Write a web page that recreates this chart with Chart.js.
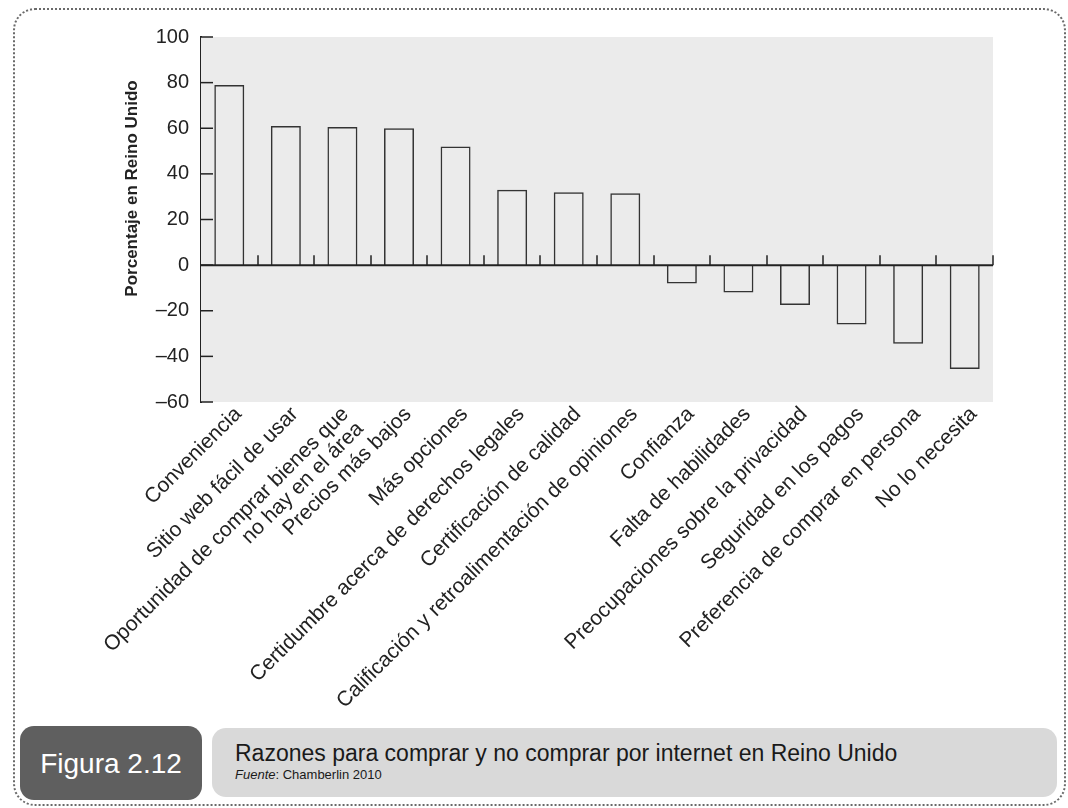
<!DOCTYPE html>
<html>
<head>
<meta charset="utf-8">
<script src="https://cdn.jsdelivr.net/npm/chart.js@4.4.1/dist/chart.umd.min.js"></script>
<style>
  html, body { margin:0; padding:0; background:#fff; }
  body { width:1068px; height:808px; position:relative; overflow:hidden; font-family:"Liberation Sans", Arial, sans-serif; }
  #frame { position:absolute; left:13px; top:8px; width:1049px; height:794px; border:2px dotted #6a6a6a; border-radius:22px; }
  #chart { position:absolute; left:0; top:0; }
  #figBox { position:absolute; left:20px; top:726px; width:182px; height:74px; background:#5f5f5f; border-radius:14px;
            color:#fff; font-size:28px; line-height:76px; text-align:center; }
  #capBox { position:absolute; left:212px; top:728px; width:845px; height:69px; background:#d9d9d9; border-radius:14px; }
  #capTitle { position:absolute; left:23px; top:12px; font-size:23px; color:#1a1a1a; white-space:nowrap; }
  #capSrc { position:absolute; left:23px; top:39px; font-size:13px; color:#1a1a1a; white-space:nowrap; }
</style>
</head>
<body>
<div id="frame"></div>
<canvas id="chart" width="1068" height="808"></canvas>
<div id="figBox">Figura 2.12</div>
<div id="capBox">
  <div id="capTitle">Razones para comprar y no comprar por internet en Reino Unido</div>
  <div id="capSrc"><i>Fuente</i>: Chamberlin 2010</div>
</div>
<script>
// categories and values
const categories = [
  'Conveniencia',
  'Sitio web fácil de usar',
  ['Oportunidad de comprar bienes que', 'no hay en el área'],
  'Precios más bajos',
  'Más opciones',
  'Certidumbre acerca de derechos legales',
  'Certificación de calidad',
  'Calificación y retroalimentación de opiniones',
  'Confianza',
  'Falta de habilidades',
  'Preocupaciones sobre la privacidad',
  'Seguridad en los pagos',
  'Preferencia de comprar en persona',
  'No lo necesita'
];
const percentages = [79, 61, 60.5, 60, 52, 33, 32, 31.5, -8, -12, -17.5, -26, -34.5, -45.5];
const yTitle = 'Porcentaje en Reino Unido';
const yMin = -60, yMax = 100, yStep = 20;

// one-line names go through the axis; the two-line one is centred on its bar
// like in the print, which the axis can't do per tick, so decor draws it
const axisLabels = categories.map(c => Array.isArray(c) ? '' : c);

const FONT = '"Liberation Sans", Arial, sans-serif';
const INK = '#222';
const LABEL_SIZE = 21;
const LABEL_OFFSET = 9;

// shaded plot area, zero line with category ticks, inward y ticks, axis title
const decor = {
  id: 'decor',
  beforeDatasetsDraw(chart) {
    const { ctx, chartArea: a } = chart;
    ctx.save();
    ctx.fillStyle = '#ebebeb';
    ctx.fillRect(a.left, a.top, a.right - a.left, a.bottom - a.top);
    ctx.restore();
  },
  afterDatasetsDraw(chart) {
    const { ctx, chartArea: a, scales: { x, y } } = chart;
    ctx.save();
    ctx.strokeStyle = INK;
    // zero line
    const y0 = y.getPixelForValue(0);
    ctx.lineWidth = 2;
    ctx.beginPath(); ctx.moveTo(a.left, y0); ctx.lineTo(a.right, y0); ctx.stroke();
    // small ticks between categories on the zero line
    const half = (x.getPixelForValue(1) - x.getPixelForValue(0)) / 2;
    ctx.lineWidth = 1.5;
    for (let i = 0; i < categories.length; i++) {
      const px = Math.round(x.getPixelForValue(i) + half);
      ctx.beginPath(); ctx.moveTo(px, y0); ctx.lineTo(px, y0 - 10); ctx.stroke();
    }
    // y ticks pointing into the plot
    y.ticks.forEach(t => {
      const py = y.getPixelForValue(t.value);
      ctx.beginPath(); ctx.moveTo(a.left, py); ctx.lineTo(a.left + 12, py); ctx.stroke();
    });
    // y title
    ctx.fillStyle = INK;
    ctx.font = 'bold 17px ' + FONT;
    ctx.textAlign = 'center';
    ctx.textBaseline = 'middle';
    ctx.translate(132, a.top + (a.bottom - a.top) * 0.415);
    ctx.rotate(-Math.PI / 2);
    ctx.fillText(yTitle, 0, 0);
    ctx.restore();
  },
  afterDraw(chart) {
    const { ctx, scales: { x } } = chart;
    const lh = LABEL_SIZE * 1.2;
    ctx.save();
    ctx.fillStyle = INK;
    ctx.font = LABEL_SIZE + 'px ' + FONT;
    ctx.textAlign = 'right';
    ctx.textBaseline = 'middle';
    categories.forEach((c, i) => {
      if (!Array.isArray(c)) return;
      ctx.save();
      ctx.translate(x.getPixelForValue(i) + LABEL_OFFSET - 15, x.top);
      ctx.rotate(-Math.PI / 4);
      c.forEach((line, k) => ctx.fillText(line, 0, lh / 2 + k * 21));
      ctx.restore();
    });
    ctx.restore();
  }
};

new Chart(document.getElementById('chart'), {
  type: 'bar',
  data: {
    labels: axisLabels,
    datasets: [{
      data: percentages,
      backgroundColor: 'rgba(0,0,0,0)',
      borderColor: '#333',
      borderWidth: 1.5,
      borderSkipped: 'start',
      categoryPercentage: 1,
      barPercentage: 0.53
    }]
  },
  options: {
    responsive: false,
    animation: false,
    layout: { padding: { top: 37, right: 75, bottom: 0, left: 0 } },
    plugins: { legend: { display: false }, tooltip: { enabled: false } },
    scales: {
      x: {
        afterFit: s => { s.height = 406; },
        grid: { display: false, drawTicks: false },
        border: { display: false },
        ticks: {
          autoSkip: false, maxRotation: 45, minRotation: 45,
          padding: 0, labelOffset: LABEL_OFFSET,
          color: INK, font: { family: FONT, size: LABEL_SIZE }
        }
      },
      y: {
        min: yMin, max: yMax,
        afterFit: s => { s.width = 201; },
        grid: { display: false, drawTicks: false },
        border: { display: true, color: INK, width: 2 },
        ticks: {
          stepSize: yStep, padding: 12,
          color: INK, font: { family: FONT, size: 20 },
          callback: v => v < 0 ? '\u2013' + Math.abs(v) : String(v)
        }
      }
    }
  },
  plugins: [decor]
});
</script>
</body>
</html>
